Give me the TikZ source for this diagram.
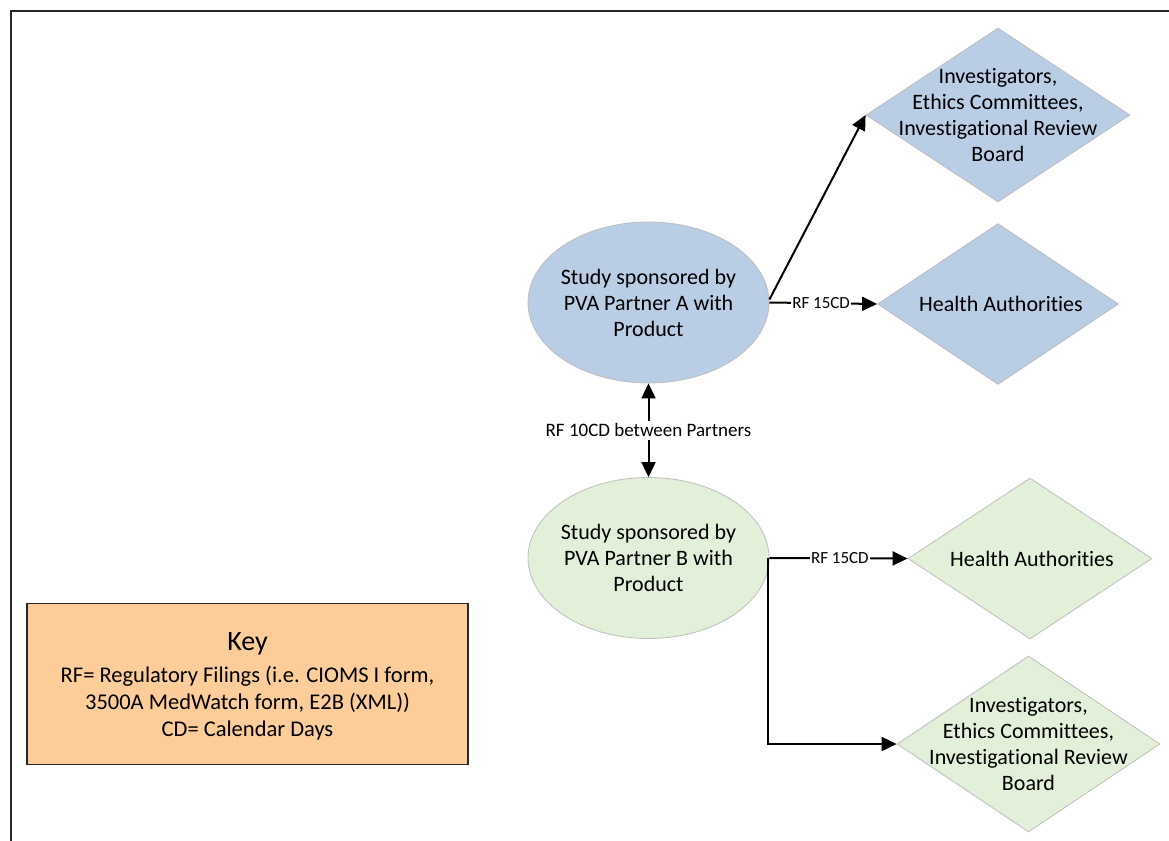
\documentclass[tikz,border=0pt]{standalone}
\usepackage{fontspec}
\setmainfont[Ligatures=NoCommon]{Carlito}
\usetikzlibrary{shapes.geometric,arrows.meta}
\definecolor{fillA}{RGB}{185,205,229}
\definecolor{fillB}{RGB}{226,239,217}
\definecolor{keyfill}{RGB}{252,204,153}
\definecolor{shapeline}{RGB}{190,190,190}
\definecolor{frameline}{RGB}{40,40,40}
\tikzset{
  ell/.style={ellipse, draw=shapeline, line width=0.8pt, minimum width=241, minimum height=161, inner sep=0pt},
  dia/.style={diamond, draw=shapeline, line width=0.8pt, inner sep=0pt},
  txt/.style={align=center, font=\fontsize{22}{26}\selectfont, text=black},
  arr/.style={line width=2pt, -{Triangle[length=15pt,width=14pt]}},
  elabel/.style={fill=white, inner sep=1pt, font=\fontsize{17}{20}\selectfont, text=black}
}
\begin{document}
\begin{tikzpicture}[x=1pt,y=-1pt]
\useasboundingbox (0,0) rectangle (1169,840);
% frame
\draw[frameline, line width=2pt] (11,845) -- (11,11) -- (1175,11);
% ellipses
\node[ell, fill=fillA] (A) at (648.5,302.5) {};
\node[txt] (Atxt) at (A) {Study sponsored by\\PVA Partner A with\\Product};
\node[ell, fill=fillB] (B) at (648.5,558) {};
\node[txt] (Btxt) at (B) {Study sponsored by\\PVA Partner B with\\Product};
% diamonds
\node[dia, fill=fillA, minimum width=264, minimum height=174] (d1) at (998,115) {};
\node[txt] (d1txt) at (d1) {Investigators,\\Ethics Committees,\\Investigational Review\\Board};
\node[dia, fill=fillA, minimum width=241, minimum height=161] (d2) at (998,304) {};
\node[txt] (d2txt) at ([xshift=3pt]d2.center) {Health Authorities};
\node[dia, fill=fillB, minimum width=244, minimum height=161] (d3) at (1030,558.5) {};
\node[txt] (d3txt) at ([xshift=2pt]d3.center) {Health Authorities};
\node[dia, fill=fillB, minimum width=263, minimum height=176] (d4) at (1028.5,744) {};
\node[txt] (d4txt) at (d4) {Investigators,\\Ethics Committees,\\Investigational Review\\Board};
% key
\node[draw=frameline, line width=1.5pt, fill=keyfill, minimum width=441, minimum height=161, inner sep=0pt] (key) at (247.5,684) {};
\node[font=\fontsize{28}{30}\selectfont] (keyt) at (247.5,644) {Key};
\node[txt, font=\fontsize{22.5}{26.7}\selectfont] (keyb) at (247.5,703) {RF= Regulatory Filings (i.e. CIOMS I form,\\3500A MedWatch form, E2B (XML))\\CD= Calendar Days};
% connectors
\draw[arr] ([yshift=3pt]A.east) -- (d1.west);
\draw[arr] (A.east) -- node[elabel, pos=0.48] {RF 15CD} (d2.west);
\draw[line width=2pt, {Triangle[length=15pt,width=14pt]}-{Triangle[length=15pt,width=14pt]}] (A.south) -- node[elabel, font=\fontsize{19}{22}\selectfont, inner sep=3pt] {RF 10CD between Partners} (B.north);
\draw[arr] (B.east) -- node[elabel, pos=0.51] {RF 15CD} (d3.west);
\draw[arr] ([xshift=-1pt]B.east) |- (d4.west);
\end{tikzpicture}
\end{document}
